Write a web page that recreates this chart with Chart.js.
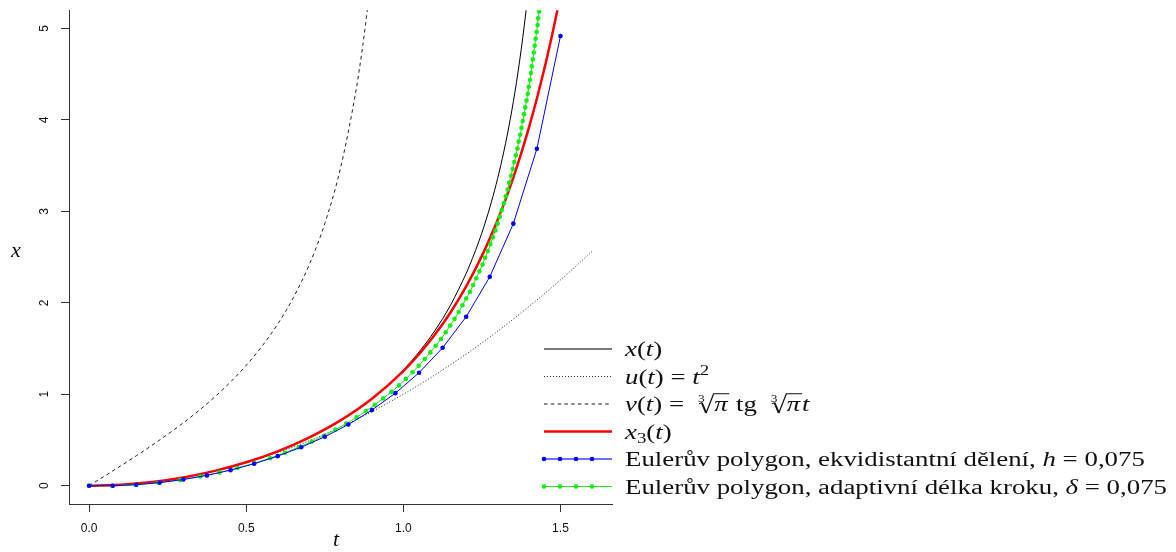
<!DOCTYPE html>
<html><head><meta charset="utf-8">
<script src="https://cdn.jsdelivr.net/npm/chart.js@4.4.1/dist/chart.umd.min.js"></script>
<style>html,body{margin:0;padding:0;background:#fff}canvas{display:block}</style>
</head>
<body>
<canvas id="c" width="1176" height="552"></canvas>
<script>
// ---- data ----
const tickT = [0, 0.5, 1.0, 1.5];
const tickX = [0, 1, 2, 3, 4, 5];

// exact solution x(t)
const tExact = [0,0.05,0.1,0.15,0.2,0.25,0.3,0.35,0.4,0.45,0.5,0.55,0.6,0.65,0.7,0.75,0.8,0.85,0.9,0.95,1.0,1.05,1.1,1.15,1.2,
  1.21,1.22,1.23,1.24,1.25,1.26,1.27,1.28,1.29,1.3,1.31,1.32,1.33,1.34,1.35,1.36,1.37,1.38,1.39,1.4,1.41,1.42];
const xExact = [0.000,0.003,0.010,0.023,0.040,0.063,0.090,0.124,0.162,0.206,0.256,0.313,0.376,0.447,0.527,0.616,0.715,0.827,0.955,1.100,1.267,1.463,1.694,1.974,2.322,
  2.402,2.486,2.574,2.668,2.766,2.871,2.982,3.100,3.225,3.360,3.503,3.658,3.824,4.004,4.199,4.411,4.644,4.899,5.180,5.492,5.846,6.234];

// lower solution u(t) = t^2
const tU = [0,0.1,0.2,0.3,0.4,0.5,0.6,0.7,0.8,0.9,1.0,1.1,1.2,1.3,1.4,1.5,1.6];
const uVals = [0,0.01,0.04,0.09,0.16,0.25,0.36,0.49,0.64,0.81,1.00,1.21,1.44,1.69,1.96,2.25,2.56];

// upper solution v(t)
const tV = [0,0.05,0.1,0.15,0.2,0.25,0.3,0.35,0.4,0.45,0.5,0.55,0.6,0.65,0.7,0.75,0.8,0.85,0.86,0.87,0.88,0.89,0.9];
const vVals = [0.000,0.107,0.216,0.327,0.442,0.562,0.688,0.824,0.972,1.134,1.317,1.525,1.767,2.057,2.413,2.867,3.473,4.334,4.553,4.792,5.056,5.348,5.673];

// Picard iterate x3(t)
const tX3 = [0,0.1,0.2,0.3,0.4,0.5,0.6,0.7,0.8,0.9,1.0,1.05,1.1,1.15,1.2,1.25,1.3,1.325,1.35,1.375,1.4,1.425,1.45,1.475,1.49,1.5];
const x3Vals = [0,0.010,0.040,0.0905,0.1621,0.2564,0.3764,0.5266,0.7142,0.9508,1.2536,1.4379,1.6497,1.8946,2.1797,2.5132,2.9056,3.1278,3.3696,3.6332,3.9208,4.2349,4.5781,4.9536,5.1958,5.3647];

// Euler polygon, equidistant h = 0.075
const tEulerH = [0,0.075,0.15,0.225,0.3,0.375,0.45,0.525,0.6,0.675,0.75,0.825,0.9,0.975,1.05,1.125,1.2,1.275,1.35,1.425,1.5];
const xEulerH = [0,0,0.011,0.034,0.068,0.113,0.170,0.240,0.323,0.421,0.535,0.669,0.827,1.013,1.236,1.508,1.848,2.284,2.866,3.685,4.917];

// Euler polygon, adaptive step delta = 0.075
const tEulerD = [0,0.075,0.149,0.221,0.290,0.354,0.415,0.472,0.526,0.576,0.623,0.667,0.709,0.747,0.784,0.818,0.851,0.881,0.909,0.936,0.962,0.986,1.008,1.029,1.049,1.068,1.086,1.103,1.120,1.135,1.149,1.163,1.176,1.188,1.200,1.212,1.222,1.232,1.242,1.252,1.260,1.269,1.277,1.285,1.293,1.300,1.307,1.313,1.320,1.326,1.332,1.337,1.343,1.348,1.353,1.358,1.363,1.367,1.372,1.376,1.380,1.384,1.388,1.392,1.396,1.399,1.403,1.406,1.409,1.412,1.415,1.418,1.421,1.424,1.427,1.429,1.432,1.434];
const xEulerD = [0,0.000,0.011,0.033,0.063,0.101,0.145,0.193,0.246,0.301,0.360,0.421,0.483,0.547,0.613,0.679,0.747,0.816,0.885,0.955,1.026,1.097,1.168,1.240,1.312,1.385,1.458,1.531,1.604,1.678,1.751,1.825,1.899,1.973,2.047,2.121,2.195,2.269,2.344,2.418,2.493,2.567,2.642,2.716,2.791,2.866,2.940,3.015,3.090,3.165,3.239,3.314,3.389,3.464,3.539,3.613,3.688,3.763,3.838,3.913,3.988,4.063,4.137,4.212,4.287,4.362,4.437,4.512,4.587,4.662,4.737,4.812,4.887,4.962,5.037,5.112,5.187,5.262];

// ---- build chart ----
const pts = (ts, xs) => ts.map((t, i) => ({x: t, y: xs[i]}));
const SERIF = "'Liberation Serif', 'DejaVu Serif', serif";
const SANS = "'Liberation Sans', Arial, sans-serif";
const GREEN = '#11ee11';

const datasets = [
  {data: pts(tExact, xExact), borderColor: '#000', borderWidth: 1, pointRadius: 0, showLine: true, cubicInterpolationMode: 'monotone', order: 4},
  {data: pts(tU, uVals), borderColor: '#222', borderWidth: 1, borderDash: [1, 2], pointRadius: 0, showLine: true, cubicInterpolationMode: 'monotone', order: 6},
  {data: pts(tV, vVals), borderColor: '#222', borderWidth: 1, borderDash: [3.5, 3.3], pointRadius: 0, showLine: true, cubicInterpolationMode: 'monotone', order: 5},
  {data: pts(tX3, x3Vals), borderColor: '#ff0000', borderWidth: 2.5, pointRadius: 0, showLine: true, cubicInterpolationMode: 'monotone', order: 3},
  {data: pts(tEulerH, xEulerH), borderColor: '#0000ff', borderWidth: 1, pointRadius: 2.3, pointBorderWidth: 0, pointBackgroundColor: '#0000ff', showLine: true, order: 1},
  {data: pts(tEulerD, xEulerD), borderColor: GREEN, borderWidth: 1, pointRadius: 2.3, pointBorderWidth: 0, pointBackgroundColor: GREEN, showLine: true, order: 2}
];
datasets.forEach(d => { d.clip = 0; });

// legend rows
const legendRows = [
  {kind: 'black', segs: [{t: 'x', it: 1}, {t: '('}, {t: 't', it: 1}, {t: ')'}]},
  {kind: 'dotted', segs: [{t: 'u', it: 1}, {t: '('}, {t: 't', it: 1}, {t: ') = '}, {t: 't', it: 1}, {t: '2', s: 0.7, dy: -0.42}]},
  {kind: 'dashed', segs: [{t: 'v', it: 1}, {t: '('}, {t: 't', it: 1}, {t: ') =  '}, {rad: 'π'}, {t: ' tg  '}, {rad: 'π'}, {t: 't', it: 1}]},
  {kind: 'red', segs: [{t: 'x', it: 1}, {t: '3', s: 0.7, dy: 0.22}, {t: '('}, {t: 't', it: 1}, {t: ')'}]},
  {kind: 'blue', segs: [{t: 'Eulerův polygon, ekvidistantní dělení, '}, {t: 'h', it: 1}, {t: ' = 0,075'}]},
  {kind: 'green', segs: [{t: 'Eulerův polygon, adaptivní délka kroku, '}, {t: 'δ', it: 1}, {t: ' = 0,075'}]}
];

const FS = 20;
function segFont(s) { return (s.it ? 'italic ' : '') + Math.round(FS * (s.s || 1) * 10) / 10 + 'px ' + SERIF; }
function segWidth(ctx, s) {
  if (s.rad) { ctx.font = 'italic ' + FS + 'px ' + SERIF; return 0.62 * FS + ctx.measureText(s.rad).width + 0.06 * FS; }
  ctx.font = segFont(s); return ctx.measureText(s.t).width;
}
function richWidth(ctx, segs) { return segs.reduce((w, s) => w + segWidth(ctx, s), 0); }
function drawRich(ctx, segs, x, y) {
  let cx = x;
  segs.forEach(s => {
    const w = segWidth(ctx, s);
    if (s.rad) {
      // cube-root sign with index 3
      ctx.font = Math.round(FS * 0.5) + 'px ' + SERIF;
      ctx.fillText('3', cx + 0.02 * FS, y - 0.46 * FS);
      ctx.save();
      ctx.lineJoin = 'miter';
      ctx.lineWidth = 0.9;
      ctx.beginPath();
      ctx.moveTo(cx + 0.06 * FS, y - 0.36 * FS);
      ctx.lineTo(cx + 0.16 * FS, y - 0.42 * FS);
      ctx.stroke();
      ctx.lineWidth = 1.5;
      ctx.beginPath();
      ctx.moveTo(cx + 0.16 * FS, y - 0.42 * FS);
      ctx.lineTo(cx + 0.32 * FS, y + 0.1 * FS);
      ctx.stroke();
      ctx.lineWidth = 0.9;
      ctx.beginPath();
      ctx.moveTo(cx + 0.32 * FS, y + 0.1 * FS);
      ctx.lineTo(cx + 0.6 * FS, y - 0.86 * FS);
      ctx.lineTo(cx + w, y - 0.86 * FS);
      ctx.stroke();
      ctx.restore();
      ctx.font = 'italic ' + FS + 'px ' + SERIF;
      ctx.fillText(s.rad, cx + 0.62 * FS, y);
    } else {
      ctx.font = segFont(s);
      ctx.fillText(s.t, cx, y + (s.dy || 0) * FS);
    }
    cx += w;
  });
}

const decorPlugin = {
  id: 'decor',
  afterDraw(chart) {
    const ctx = chart.ctx;
    const ys = chart.scales.y;
    ctx.save();
    // rotated y tick labels
    ctx.fillStyle = '#111';
    ctx.font = '12px ' + SANS;
    ctx.textAlign = 'center';
    ctx.textBaseline = 'middle';
    tickX.forEach(v => {
      const py = ys.getPixelForValue(v);
      ctx.save();
      ctx.translate(45, py);
      ctx.rotate(-Math.PI / 2);
      ctx.fillText(String(v), 0, 0);
      ctx.restore();
    });
    // axis titles
    ctx.font = 'italic 22px ' + SERIF;
    ctx.fillText('x', 16, 251);
    ctx.fillText('t', 336, 540);

    // legend
    const x0 = 544, x1 = 612, tx = 625;
    const rowY = [349, 376.5, 404, 431.5, 459, 486.5];
    let maxW = 0;
    legendRows.forEach(r => { maxW = Math.max(maxW, richWidth(ctx, r.segs)); });
    const kx = 542 / maxW;
    legendRows.forEach((r, i) => {
      const y = rowY[i];
      ctx.save();
      ctx.setLineDash([]);
      ctx.beginPath();
      ctx.moveTo(x0, y); ctx.lineTo(x1, y);
      if (r.kind === 'black') { ctx.strokeStyle = '#7a7a7a'; ctx.lineWidth = 2; }
      if (r.kind === 'dotted') { ctx.strokeStyle = '#333'; ctx.lineWidth = 1; ctx.setLineDash([1, 2]); }
      if (r.kind === 'dashed') { ctx.strokeStyle = '#666'; ctx.lineWidth = 1.3; ctx.setLineDash([3.5, 3.3]); }
      if (r.kind === 'red') { ctx.strokeStyle = '#ff0000'; ctx.lineWidth = 2.5; }
      if (r.kind === 'blue') { ctx.strokeStyle = '#7070ff'; ctx.lineWidth = 2; }
      if (r.kind === 'green') { ctx.strokeStyle = GREEN; ctx.lineWidth = 1; }
      ctx.stroke();
      ctx.setLineDash([]);
      if (r.kind === 'blue' || r.kind === 'green') {
        ctx.fillStyle = r.kind === 'blue' ? '#0000ff' : GREEN;
        [544, 560, 576, 592].forEach(px => { ctx.beginPath(); ctx.arc(px, y, 2.3, 0, Math.PI * 2); ctx.fill(); });
      }
      ctx.restore();
      ctx.save();
      ctx.fillStyle = '#111';
      ctx.strokeStyle = '#111';
      ctx.textAlign = 'left';
      ctx.textBaseline = 'alphabetic';
      ctx.translate(tx, 0);
      ctx.scale(kx, 1);
      drawRich(ctx, r.segs, 0, y + 7);
      ctx.restore();
    });
    ctx.restore();
  }
};

new Chart(document.getElementById('c'), {
  type: 'scatter',
  data: {datasets},
  options: {
    responsive: false,
    animation: false,
    devicePixelRatio: 1,
    layout: {padding: {left: 0, top: 10, right: 564, bottom: 0}},
    plugins: {legend: {display: false}, tooltip: {enabled: false}},
    scales: {
      x: {
        type: 'linear', min: -0.064, max: 1.664,
        afterBuildTicks: s => { s.ticks = tickT.map(v => ({value: v})); },
        afterFit: s => { s.height = 48; },
        ticks: {callback: v => Number(v).toFixed(1), font: {family: SANS, size: 12}, color: '#111', padding: 9, maxRotation: 0, autoSkip: false},
        grid: {drawOnChartArea: false, tickLength: 8, color: '#333', tickWidth: 1},
        border: {color: '#333', width: 1}
      },
      y: {
        type: 'linear', min: -0.2, max: 5.2,
        afterBuildTicks: s => { s.ticks = tickX.map(v => ({value: v})); },
        afterFit: s => { s.width = 69; },
        ticks: {color: 'rgba(0,0,0,0)', font: {family: SANS, size: 12}},
        grid: {drawOnChartArea: false, tickLength: 8, color: '#333', tickWidth: 1},
        border: {color: '#333', width: 1}
      }
    }
  },
  plugins: [decorPlugin]
});
</script>
</body></html>
